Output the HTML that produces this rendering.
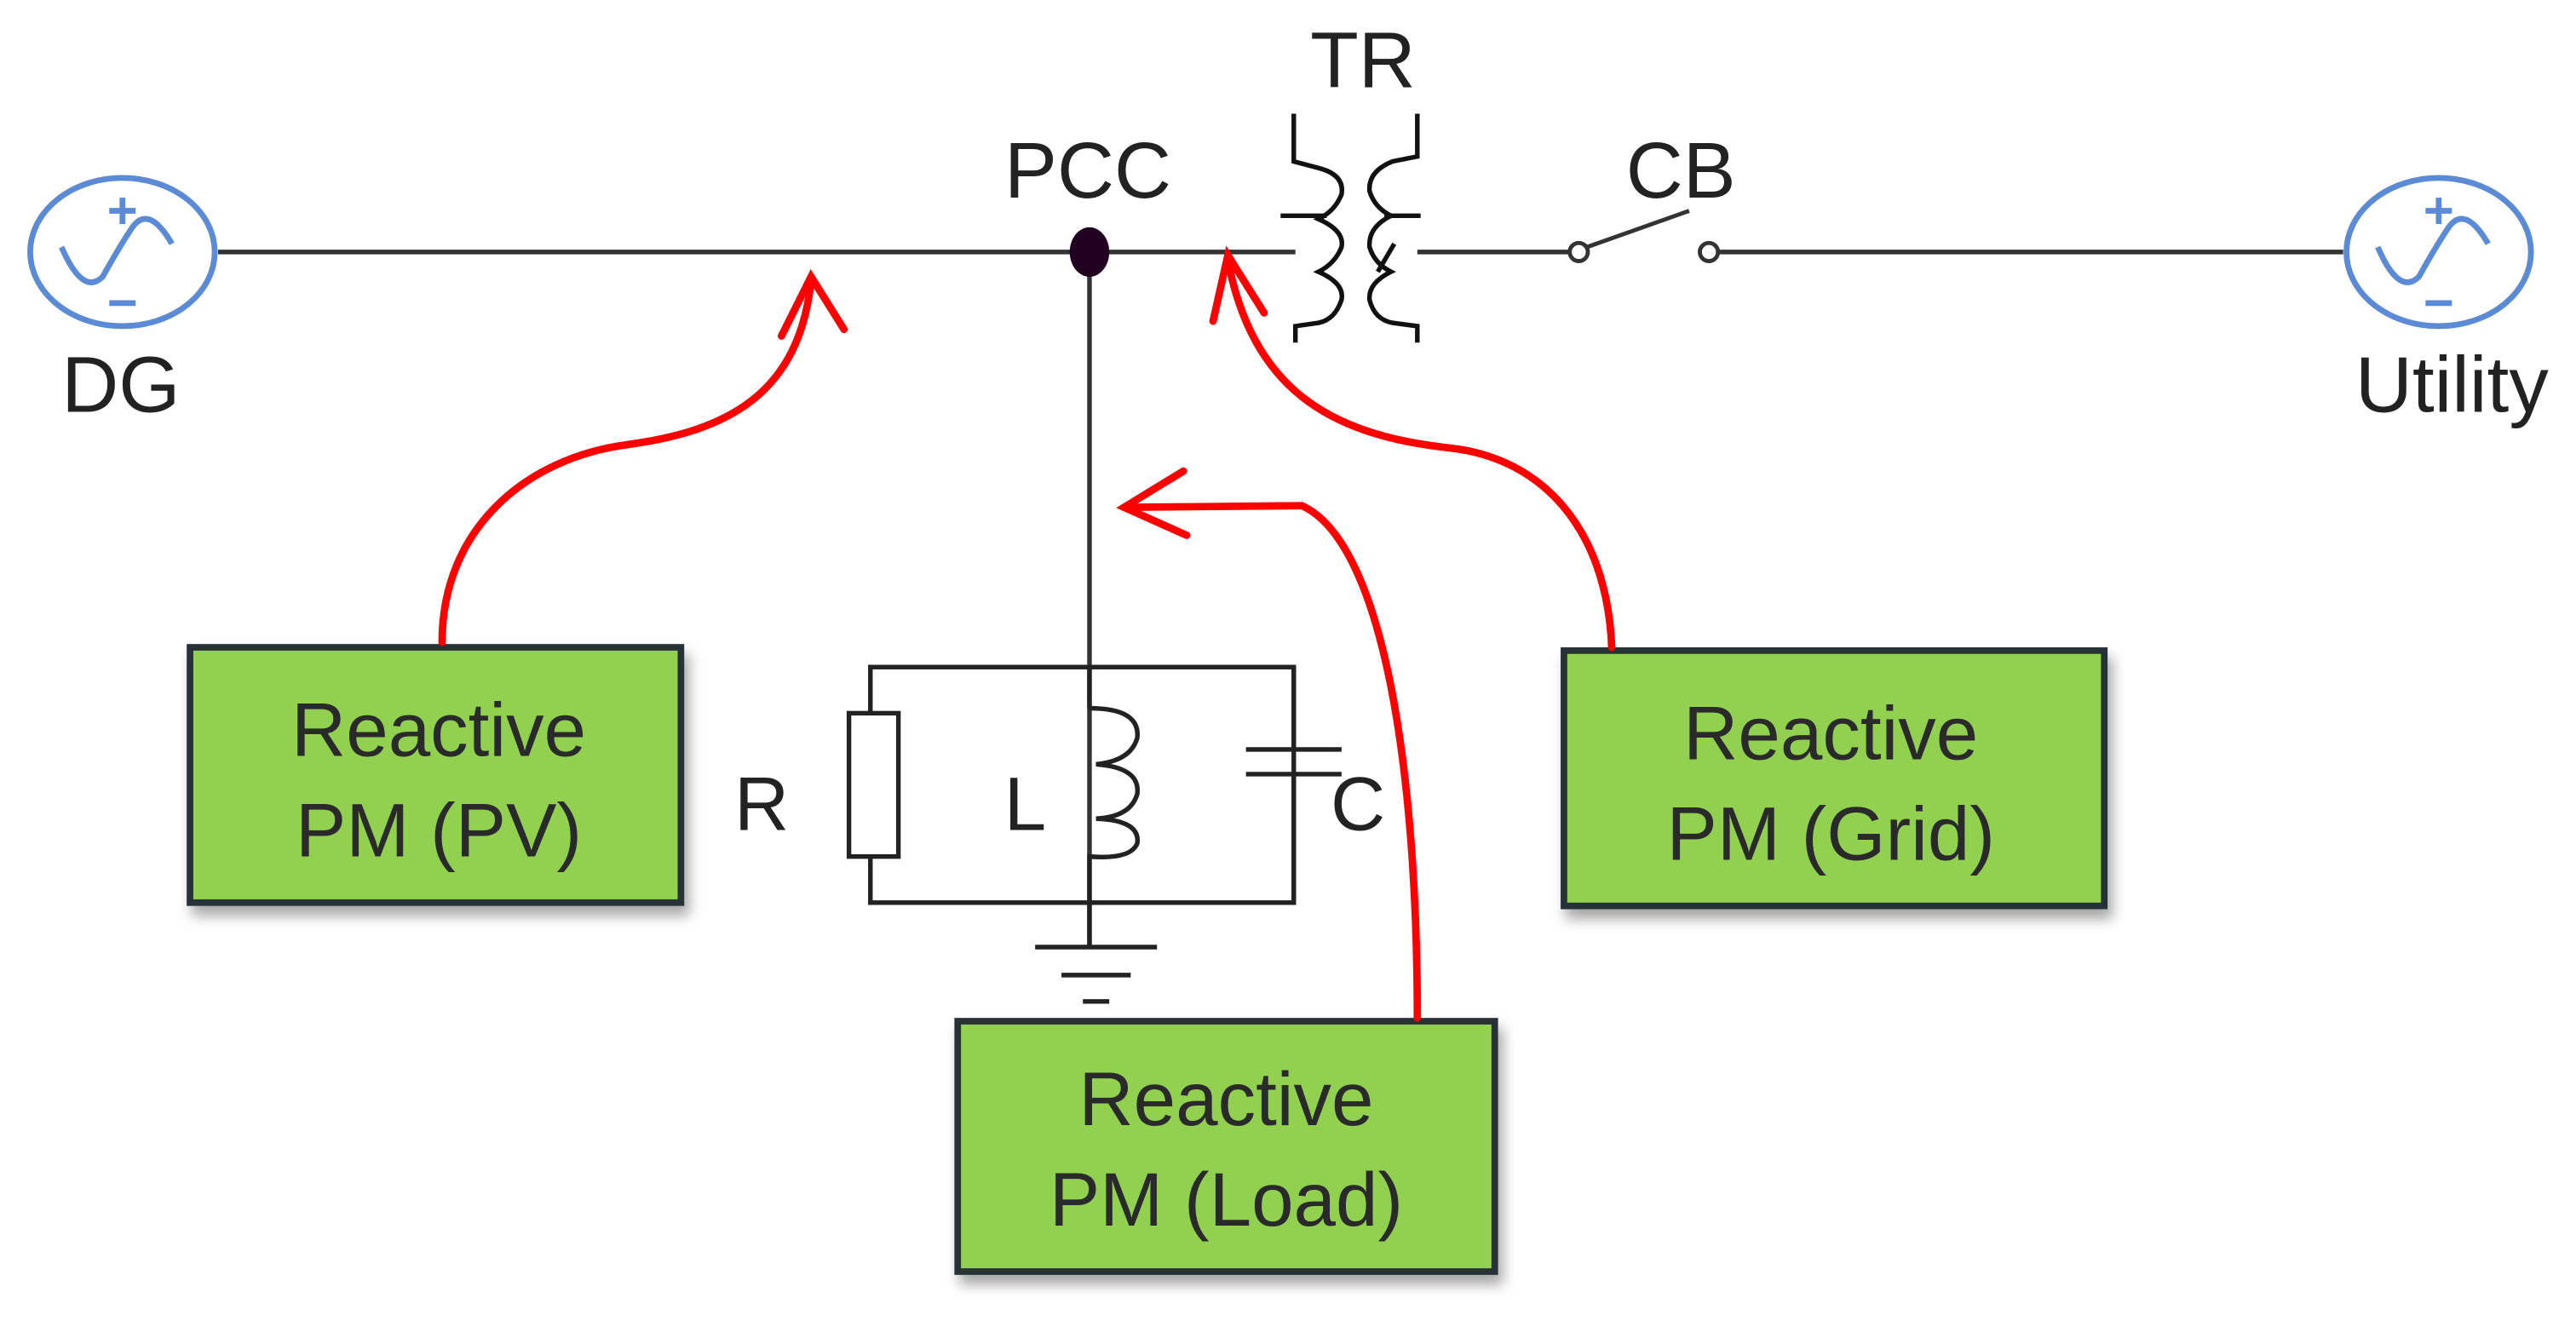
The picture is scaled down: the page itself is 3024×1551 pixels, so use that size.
<!DOCTYPE html>
<html><head><meta charset="utf-8"><style>
html,body{margin:0;padding:0;background:#fff;}
svg{display:block;}
text{font-family:"Liberation Sans",sans-serif;}
</style></head><body>
<svg width="3024" height="1551" viewBox="0 0 1563 802" xmlns="http://www.w3.org/2000/svg">
<defs>
<filter id="sh" x="-10%" y="-10%" width="130%" height="140%"><feDropShadow dx="3" dy="6" stdDeviation="4" flood-color="#000" flood-opacity="0.35"/></filter>
</defs>
<rect width="1563" height="802" fill="#fff"/>
<g stroke="#333" stroke-width="2.8" fill="none">
<line x1="132" y1="153" x2="786" y2="153"/>
<line x1="860" y1="153" x2="952" y2="153"/>
<line x1="1043" y1="153" x2="1422" y2="153"/>
<line x1="661" y1="153" x2="661" y2="575"/>
</g>
<g stroke="#5b8ad6" stroke-width="3.5" fill="none">
<ellipse cx="74" cy="153" rx="56" ry="45"/>
<path d="M37,150 Q50,180 62,168 Q72,150 80,138 Q90,124 104,148"/>
<line x1="74" y1="120" x2="74" y2="136"/><line x1="66" y1="128" x2="82" y2="128"/>
<line x1="66" y1="184" x2="82" y2="184"/>
<ellipse cx="1480" cy="153" rx="56" ry="45"/>
<path d="M1443,150 Q1456,180 1468,168 Q1478,150 1486,138 Q1496,124 1510,148"/>
<line x1="1480" y1="120" x2="1480" y2="136"/><line x1="1472" y1="128" x2="1488" y2="128"/>
<line x1="1472" y1="184" x2="1488" y2="184"/>
</g>
<text x="73" y="250" font-size="48" text-anchor="middle" fill="#222">DG</text>
<text x="1488" y="250" font-size="48" text-anchor="middle" fill="#222">Utility</text>
<text x="660" y="120" font-size="48" text-anchor="middle" fill="#222">PCC</text>
<ellipse cx="661" cy="153" rx="12" ry="15" fill="#22001f"/>
<g stroke="#111" stroke-width="2.8" fill="none">
<path d="M785,69 V98 L800,102 Q816,106 814,118 Q810,128 800,133 Q816,140 814,150 Q810,160 800,165 Q816,172 814,182 Q810,194 800,196 L786,198 V208"/>
<path d="M860,69 V95 L845,98 Q830,104 831,116 Q834,126 844,131 Q830,138 831,150 Q834,160 844,165 Q830,172 831,182 Q834,194 845,196 L860,198 V208"/>
<line x1="777" y1="131" x2="805" y2="131"/><line x1="840" y1="131" x2="862" y2="131"/>
<line x1="836" y1="165" x2="846" y2="148"/>
</g>
<text x="827" y="53" font-size="48" text-anchor="middle" fill="#222">TR</text>
<g stroke="#333" stroke-width="2.5" fill="#fff">
<circle cx="958" cy="153" r="5.5"/><circle cx="1037" cy="153" r="5.5"/>
<line x1="963" y1="150" x2="1025" y2="128"/>
</g>
<text x="1020" y="120" font-size="48" text-anchor="middle" fill="#222">CB</text>
<g stroke="#222" stroke-width="2.8" fill="none">
<rect x="528" y="405" width="257" height="143"/>
<rect x="515" y="433" width="30" height="87" fill="#fff"/>
<line x1="661" y1="405" x2="661" y2="430"/>
<path d="M661,430 Q692,430 690,448 Q686,462 665,464 Q692,466 690,482 Q686,496 665,497 Q692,498 690,512 Q686,522 661,520 V548"/>
<line x1="756" y1="455" x2="814" y2="455"/><line x1="756" y1="470" x2="814" y2="470"/>
<line x1="785" y1="405" x2="785" y2="455"/><line x1="785" y1="470" x2="785" y2="548"/>
<line x1="661" y1="548" x2="661" y2="575"/>
<line x1="628" y1="575" x2="702" y2="575"/>
<line x1="644" y1="592" x2="686" y2="592"/>
<line x1="657" y1="608" x2="673" y2="608"/>
</g>
<text x="462" y="504" font-size="46" text-anchor="middle" fill="#222">R</text>
<text x="622" y="504" font-size="46" text-anchor="middle" fill="#222">L</text>
<text x="824" y="504" font-size="46" text-anchor="middle" fill="#222">C</text>
<g fill="#92d050" stroke="#263238" stroke-width="4" filter="url(#sh)">
<rect x="115" y="393" width="298" height="155"/>
<rect x="949" y="395" width="328" height="155"/>
<rect x="581" y="620" width="326" height="152"/>
</g>
<g font-size="46" text-anchor="middle" fill="#2a2a2a">
<text x="266" y="459">Reactive</text><text x="266" y="520">PM (PV)</text>
<text x="1111" y="461">Reactive</text><text x="1111" y="522">PM (Grid)</text>
<text x="744" y="683">Reactive</text><text x="744" y="744">PM (Load)</text>
</g>
<g stroke="#ff0000" stroke-width="4.5" fill="none" stroke-linecap="round">
<path d="M268,390 C268,320 320,278 380,270 C440,262 485,240 492,170"/>
<path d="M474,204 L492,168 L512,200"/>
<path d="M978,393 C975,320 935,278 880,272 C805,264 760,235 745,158"/>
<path d="M736,195 L745,155 L767,190"/>
<path d="M860,618 C860,470 840,330 790,307 L682,308"/>
<path d="M718,286 L682,308 L720,325"/>
</g>
</svg>
</body></html>
